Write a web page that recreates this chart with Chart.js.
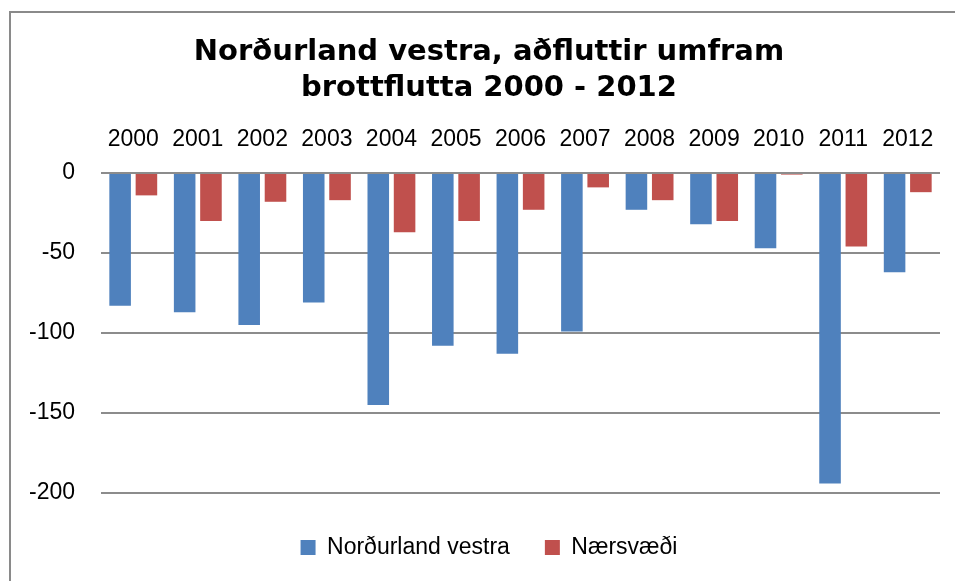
<!DOCTYPE html>
<html lang="is">
<head>
<meta charset="utf-8">
<title>Norðurland vestra, aðfluttir umfram brottflutta 2000 - 2012</title>
<script src="https://cdn.jsdelivr.net/npm/chart.js@4/dist/chart.umd.min.js"></script>
<style>
  html, body { margin: 0; padding: 0; background: #ffffff; overflow: hidden; }
  #wrap { position: relative; width: 955px; height: 581px; overflow: hidden; }
  #frame {
    position: absolute; left: 9px; top: 11px; width: 1000px; height: 700px;
    border-left: 2px solid #8a8a8a; border-top: 2px solid #8a8a8a;
  }
  /* the drawing surface runs a little past the right edge, so the title and
     legend sit centred over the full chart frame */
  #box { position: absolute; left: 0; top: 0; width: 978px; height: 581px; }
</style>
</head>
<body>
<div id="wrap">
  <div id="frame"></div>
  <div id="box"><canvas id="chart"></canvas></div>
</div>
<script>
// Ár (flokkar)
const years = ['2000', '2001', '2002', '2003', '2004', '2005', '2006',
               '2007', '2008', '2009', '2010', '2011', '2012'];

// Aðfluttir umfram brottflutta
const nordurlandVestra = [-83, -87, -95, -81, -145, -108, -113, -99, -23, -32, -47, -194, -62];
const naersvaedi       = [-14, -30, -18, -17, -37, -30, -23, -9, -17, -30, -1, -46, -12];

// Ásinn
const yMin = -200;
const yMax = 0;
const yStep = 50;

const titleLines = ['Norðurland vestra, aðfluttir umfram', 'brottflutta 2000 - 2012'];
const seriesNames = ['Norðurland vestra', 'Nærsvæði'];

const tickFont = { family: '"Liberation Sans", Arial, sans-serif', size: 23 };

new Chart(document.getElementById('chart'), {
  type: 'bar',
  data: {
    labels: years,
    datasets: [
      { label: seriesNames[0], data: nordurlandVestra, backgroundColor: '#4F81BD', yAxisID: 'y' },
      { label: seriesNames[1], data: naersvaedi, backgroundColor: '#C0504D', yAxisID: 'y' }
    ]
  },
  options: {
    responsive: true,
    maintainAspectRatio: false,
    animation: false,
    categoryPercentage: 0.815,
    barPercentage: 0.82,
    layout: { padding: { left: 0, right: 0, top: 0, bottom: 12 } },
    scales: {
      x: {
        position: 'top',
        grid: { display: false, drawTicks: false },
        border: { display: false },
        ticks: { color: '#000000', font: tickFont, padding: 20, maxRotation: 0, autoSkip: false },
        afterFit: (scale) => { scale.height = 67; }
      },
      y: {
        position: 'left',
        min: yMin,
        max: yMax,
        grid: { color: '#8c8c8c', lineWidth: 2, drawTicks: false },
        border: { display: false },
        ticks: { stepSize: yStep, color: '#000000', font: tickFont, padding: 26 },
        afterFit: (scale) => { scale.width = 101; }
      },
      // empty margin on the right of the plot
      yRight: {
        type: 'linear',
        position: 'right',
        grid: { display: false, drawTicks: false },
        border: { display: false },
        ticks: { display: false },
        afterFit: (scale) => { scale.width = 38; }
      }
    },
    plugins: {
      title: {
        display: true,
        text: titleLines,
        color: '#000000',
        font: { family: '"DejaVu Sans", Verdana, sans-serif', size: 29, weight: 'bold', lineHeight: 1.241 },
        padding: { top: 34, bottom: 0 }
      },
      legend: {
        position: 'bottom',
        title: { display: true, text: '', padding: 0, font: { size: 8, lineHeight: 1 } },
        labels: {
          color: '#000000',
          font: { family: '"Liberation Sans", Arial, sans-serif', size: 23 },
          boxWidth: 15,
          boxHeight: 15,
          padding: 35
        }
      },
      tooltip: { enabled: false }
    }
  }
});
</script>
</body>
</html>
